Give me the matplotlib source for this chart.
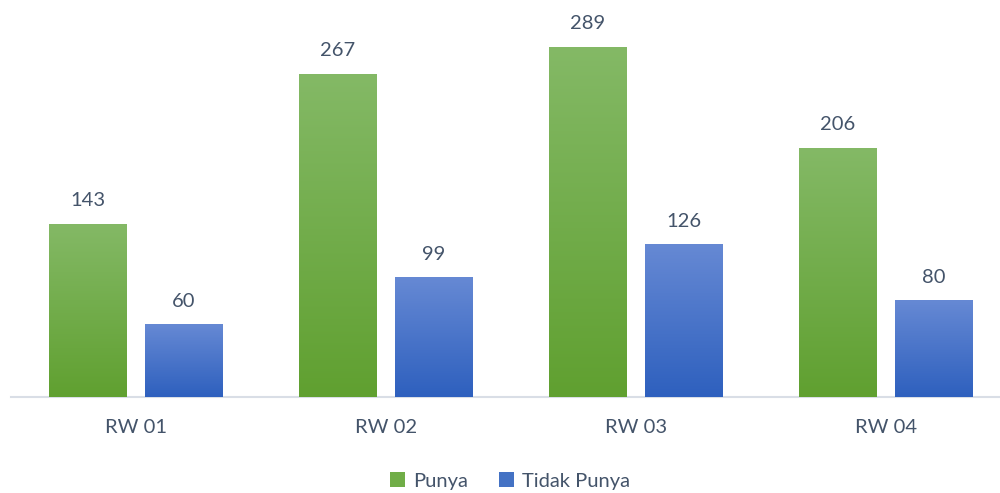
import matplotlib
matplotlib.use("Agg")
import matplotlib.pyplot as plt
import numpy as np
from matplotlib.colors import LinearSegmentedColormap
from matplotlib.patches import Patch

categories = ["RW 01", "RW 02", "RW 03", "RW 04"]
punya = [143, 267, 289, 206]
tidak_punya = [60, 99, 126, 80]
series_names = ["Punya", "Tidak Punya"]

plt.rcParams['font.family'] = ['Lato', 'DejaVu Sans']
txt_color = "#44546a"

fig = plt.figure(figsize=(10, 4.93), dpi=100)
ax = fig.add_axes([0.011, 0.1947, 1.0, 0.8053])

x = np.arange(len(categories))
w = 0.312
gap = 0.072
green_cmap = LinearSegmentedColormap.from_list("g", ["#60a030", "#84b966"])
blue_cmap = LinearSegmentedColormap.from_list("b", ["#2e60be", "#6689d4"])

ymax = 327.8
grad = np.linspace(0, 1, 256).reshape(-1, 1)

def grad_bars(xs, vals, cmap, solid):
    bars = ax.bar(xs, vals, w, color=solid, zorder=2)
    for b in bars:
        x0 = b.get_x(); h = b.get_height()
        im = ax.imshow(grad, cmap=cmap, origin="lower", aspect="auto",
                       extent=[x0, x0 + w, 0, h], zorder=3)
        im.set_clip_path(b)
    return bars

b1 = grad_bars(x - (w + gap) / 2, punya, green_cmap, "#70ad47")
b2 = grad_bars(x + (w + gap) / 2, tidak_punya, blue_cmap, "#4472c4")

for bars, vals in ((b1, punya), (b2, tidak_punya)):
    for b, v in zip(bars, vals):
        ax.text(b.get_x() + w / 2, v + 12, str(v), ha="center", va="bottom",
                fontsize=14.5, color=txt_color)

ax.set_xlim(-0.5, len(categories) - 0.5)
ax.set_ylim(0, ymax)
ax.set_xticks(x)
ax.set_xticklabels(categories, fontsize=14.5, color=txt_color)
ax.tick_params(axis='x', length=0, pad=16)
ax.set_yticks([])
for s in ["top", "right", "left"]:
    ax.spines[s].set_visible(False)
ax.spines["bottom"].set_color("#d9dee6")
ax.spines["bottom"].set_linewidth(1.5)

handles = [Patch(facecolor="#70ad47"), Patch(facecolor="#4472c4")]
leg = fig.legend(handles, series_names, loc="center", bbox_to_anchor=(0.51, 0.024),
                 ncol=2, frameon=False, fontsize=14.5, handlelength=0.75,
                 handleheight=0.75, handletextpad=0.4, columnspacing=1.5)
for t in leg.get_texts():
    t.set_color(txt_color)

fig.savefig("out.png", dpi=100)
